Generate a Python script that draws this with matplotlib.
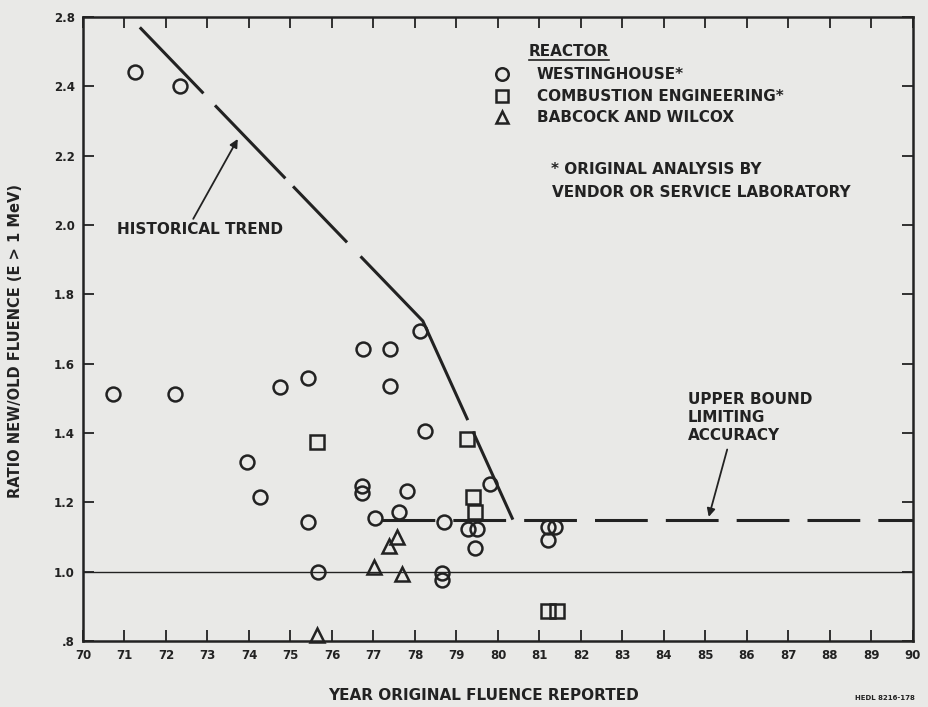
import matplotlib
matplotlib.use("Agg")
import matplotlib.pyplot as plt
from matplotlib.lines import Line2D

plt.rcParams['font.family'] = ['DejaVu Sans']
plt.rcParams['font.weight'] = 'bold'
plt.rcParams['axes.labelweight'] = 'bold'
plt.rcParams['lines.scale_dashes'] = False

# values
westinghouse_x = [70.72, 71.25, 72.22, 72.34, 73.95, 74.27, 74.75, 75.42, 75.42, 75.66,
                  76.72, 76.72, 76.75, 77.04, 77.40, 77.40, 77.61, 77.81, 78.12, 78.24,
                  78.65, 78.65, 78.70, 79.28, 79.49, 79.45, 79.81, 81.20, 81.37, 81.20]
westinghouse_y = [1.513, 2.44, 1.513, 2.40, 1.317, 1.216, 1.533, 1.559, 1.144, 1.000,
                  1.248, 1.228, 1.643, 1.156, 1.643, 1.536, 1.173, 1.233, 1.695, 1.406,
                  0.997, 0.975, 1.144, 1.124, 1.124, 1.069, 1.254, 1.130, 1.130, 1.090]
combustion_x = [75.64, 79.25, 79.40, 79.45, 81.20, 81.42]
combustion_y = [1.375, 1.383, 1.216, 1.173, 0.885, 0.885]
babcock_x = [75.64, 77.01, 77.37, 77.57, 77.69]
babcock_y = [0.816, 1.014, 1.075, 1.100, 0.994]

trend_x = [71.37, 78.19, 80.36]
trend_y = [2.57, 1.723, 1.15]
upper_bound = 1.15
upper_bound_start = 77.2
reference_ratio = 1.0

x_ticks = list(range(70, 91))
y_ticks = [0.8, 1.0, 1.2, 1.4, 1.6, 1.8, 2.0, 2.2, 2.4, 2.6]
y_tick_labels = ['.8', '1.0', '1.2', '1.4', '1.6', '1.8', '2.0', '2.2', '2.4', '2.8']

ink = '#222222'
paper = '#e9e9e7'
fs = 11

fig = plt.figure(figsize=(9.29, 7.07), dpi=100, facecolor=paper)
ax = fig.add_axes([0.0893, 0.0934, 0.8934, 0.8826], facecolor=paper)
ax.set_xlim(70, 90)
ax.set_ylim(0.8, 2.6)

for s in ax.spines.values():
    s.set_linewidth(1.8)
    s.set_color(ink)

ax.set_xticks(x_ticks)
ax.set_xticklabels([str(t) for t in x_ticks])
ax.set_yticks(y_ticks)
ax.set_yticklabels(y_tick_labels)
ax.tick_params(direction='in', length=8, width=1.3, color=ink, labelcolor=ink,
               top=True, right=True, labelsize=8.5, pad=6)

# reference line at ratio 1.0
ax.axhline(reference_ratio, color=ink, lw=1.0)

# historical trend (hand-drawn looking long dashes) and upper bound
ax.plot(trend_x, trend_y, color=ink, lw=2.2,
        linestyle=(0, (66, 12, 73, 8, 56, 14, 143, 9, 120, 10)),
        solid_capstyle='butt')
ax.plot([upper_bound_start, 90], [upper_bound, upper_bound], color=ink, lw=2.2,
        linestyle=(0, (38, 13)), solid_capstyle='butt')

mk = dict(linestyle='none', markerfacecolor='none', markeredgecolor=ink,
          markeredgewidth=1.8, clip_on=False)
ax.plot(westinghouse_x, westinghouse_y, marker='o', markersize=10, **mk)
ax.plot(combustion_x, combustion_y, marker='s', markersize=9.5, **mk)
ax.plot(babcock_x, babcock_y, marker='^', markersize=10, **mk)

# legend block drawn as text
ax.text(80.75, 2.499, 'REACTOR', fontsize=fs, color=ink, va='center')
legend_rows = [('o', 'WESTINGHOUSE*', 2.435),
               ('s', 'COMBUSTION ENGINEERING*', 2.372),
               ('^', 'BABCOCK AND WILCOX', 2.311)]
for m, label, yy in legend_rows:
    ax.plot([80.10], [yy], marker=m, markersize=9 if m != 's' else 8.5, **mk)
    ax.text(80.94, yy, label, fontsize=fs, color=ink, va='center')
ax.text(81.27, 2.161, '* ORIGINAL ANALYSIS BY', fontsize=fs, color=ink, va='center')
ax.text(81.31, 2.095, 'VENDOR OR SERVICE LABORATORY', fontsize=fs, color=ink,
        va='center')

ax.annotate('HISTORICAL TREND', xy=(73.73, 2.248), xytext=(70.82, 1.988),
            fontsize=fs, color=ink, va='center', ha='left',
            arrowprops=dict(arrowstyle='-|>', color=ink, lw=1.3,
                            mutation_scale=12, shrinkA=0, shrinkB=0,
                            relpos=(0.45, 1.0)))
ax.annotate('UPPER BOUND\nLIMITING\nACCURACY', xy=(85.08, 1.158), xytext=(84.58, 1.519),
            fontsize=fs, color=ink, va='top', ha='left', linespacing=1.25,
            arrowprops=dict(arrowstyle='-|>', color=ink, lw=1.3,
                            mutation_scale=12, shrinkA=3, shrinkB=0,
                            relpos=(0.33, 0.0)))

ax.set_xlabel('YEAR ORIGINAL FLUENCE REPORTED', fontsize=fs, color=ink)
ax.set_ylabel('RATIO NEW/OLD FLUENCE (E > 1 MeV)', fontsize=10.5, color=ink)
ax.xaxis.set_label_coords(0.482, -0.075)
ax.yaxis.set_label_coords(-0.072, 0.48)

fig.text(0.985, 0.008, 'HEDL 8216-178', fontsize=5, color=ink, ha='right', va='bottom')

# underline for the legend heading
fig.canvas.draw()
heading = [t for t in ax.texts if t.get_text() == 'REACTOR'][0]
bb = heading.get_window_extent()
fig.add_artist(Line2D([bb.x0 / fig.bbox.width, bb.x1 / fig.bbox.width],
                      [(bb.y0 - 1) / fig.bbox.height] * 2,
                      transform=fig.transFigure, color=ink, lw=1.2))

fig.savefig('out.png', dpi=100, facecolor=paper)
